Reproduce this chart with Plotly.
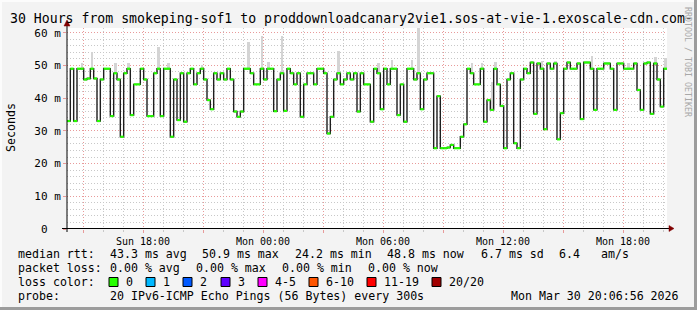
import plotly.graph_objects as go
from datetime import datetime, timedelta

# ---------------- data ----------------
start_time = datetime(2026, 3, 29, 14, 12)
step_minutes = 10
span_hours = 30

median_ms = [
    33, 49, 33, 49, 49, 45.7, 46, 49, 46, 33,
    45.7, 49, 49, 34.5, 47.6, 45.7, 28.2, 47.6, 49, 34.8,
    44.2, 44.2, 49, 45.7, 34.5, 34.5, 47.6, 49, 34.5, 49,
    49, 28.2, 45.7, 33.3, 47.6, 32.8, 47.6, 49, 44.2, 47.6,
    49, 45.7, 39.4, 36.6, 47.6, 45.7, 47.6, 45.7, 49, 45.7,
    35.9, 34.3, 35.9, 49, 49, 47.6, 44.2, 44.2, 49, 45.7,
    49, 49, 36, 45.7, 47.6, 36.1, 49, 47.6, 44.2, 47.6,
    34.3, 44.2, 47.6, 47.6, 44.2, 49, 49, 47.6, 29.2, 34.3,
    45.7, 47.6, 44.2, 45.7, 47.6, 45.7, 47.6, 35.9, 47.6, 44.2,
    44.2, 32.8, 49, 47.6, 36.6, 49, 44.2, 49, 49, 34.8,
    44.2, 32.8, 49, 49, 45.7, 47.6, 36.6, 45.7, 47.6, 47.6,
    24.7, 40.6, 24.7, 24.7, 24.9, 25.7, 24.7, 24.7, 28.2, 32,
    49, 47.6, 44.2, 44.2, 49, 32.8, 39.4, 36.4, 49, 44.2,
    37.6, 24.7, 45.7, 47.6, 26.2, 24.7, 45.7, 49, 47.6, 50.9,
    35.2, 50.6, 49, 30.5, 50.6, 49, 50.6, 27.4, 35.4, 49,
    50.9, 49, 49, 50.6, 33.6, 50.9, 50.9, 49, 36.4, 49,
    49, 50.6, 50.6, 49, 36.4, 50.6, 50.6, 49, 49, 49,
    50.6, 42.5, 36.4, 50.6, 50.9, 35.2, 50.6, 45.7, 37.4, 49,
]

smoke_idx = [4, 7, 14, 18, 27, 30, 40, 54, 58, 60, 64, 81, 93, 97, 103, 105,
             121, 124, 127, 128, 142, 146, 157, 168, 176, 179]
smoke_top = [50.6, 54, 50.6, 50.6, 55.5, 50.6, 50.2, 57.3, 59, 51, 59, 54.5, 50.6,
             51.6, 51.6, 62, 50.6, 50.6, 45, 50.9, 51.5, 51.5, 52.9, 50.6, 52.6, 52.3]

y_tick_vals = [0, 10, 20, 30, 40, 50, 60]
y_tick_text = ["0\u00a0\u00a0", "10 m", "20 m", "30 m", "40 m", "50 m", "60 m"]
x_tick_text = ["", "Sun 18:00", "", "Mon 00:00", "", "Mon 06:00", "", "Mon 12:00",
               "", "Mon 18:00", ""]

title_text = "30 Hours from smokeping-sof1 to proddownloadcanary2vie1.sos-at-vie-1.exoscale-cdn.com-"
stats_rtt = [("43.3 ms avg", 108), ("50.9 ms max", 200), ("24.2 ms min", 293),
             ("48.8 ms now", 385), ("6.7 ms sd", 479), ("6.4", 557), ("am/s", 599)]
stats_loss = [("0.00 % avg", 108), ("0.00 % max", 194), ("0.00 % min", 280),
              ("0.00 % now", 366)]
loss_labels = ["0", "1", "2", "3", "4-5", "6-10", "11-19", "20/20"]
loss_colors = ["#26ff00", "#00b8ff", "#0059ff", "#5e00ff", "#ff00ff", "#ff5500",
               "#ff0000", "#a10000"]
loss_square_x = [109, 146, 183, 221, 258, 309, 367, 432]
probe_text = "20 IPv6-ICMP Echo Pings (56 Bytes) every 300s"
date_text = "Mon Mar 30 20:06:56 2026"

# ---------------- geometry helpers ----------------
W, H = 697, 310
L, R, T, B = 67, 667, 28, 229
FONT = "DejaVu Sans Mono"


def px(x):
    return (x - L) / (R - L)


def py(y):
    return (B - y) / (B - T)


step = timedelta(minutes=step_minutes)
times = [start_time + i * step for i in range(len(median_ms))]
end_time = start_time + timedelta(hours=span_hours)

fig = go.Figure()

# smoke
fig.add_trace(go.Bar(
    x=[times[i] + step / 2 for i in smoke_idx],
    y=[top - median_ms[i] for i, top in zip(smoke_idx, smoke_top)],
    base=[median_ms[i] for i in smoke_idx],
    width=[step.total_seconds() * 1000 * 0.8] * len(smoke_idx),
    marker=dict(color="#d4d4d4", line=dict(width=0)),
    hoverinfo="skip", showlegend=False,
))

# median step line
fig.add_trace(go.Scatter(
    x=times + [times[-1] + step], y=median_ms + [median_ms[-1]],
    mode="lines", line=dict(color="#1e1e1e", width=1.4, shape="hv"),
    hoverinfo="skip", showlegend=False,
))

# loss-coloured horizontal parts
gx, gy = [], []
for t, v in zip(times, median_ms):
    gx += [t, t + step, None]
    gy += [v, v, None]
fig.add_trace(go.Scatter(
    x=gx, y=gy, mode="lines", line=dict(color=loss_colors[0], width=2.2),
    hoverinfo="skip", showlegend=False,
))

x_ticks = [start_time.replace(hour=15, minute=0) + timedelta(hours=3 * k) for k in range(11)]

fig.update_layout(
    width=W, height=H,
    margin=dict(l=L, r=W - R, t=T, b=H - B),
    paper_bgcolor="#f3f3f3", plot_bgcolor="#ffffff",
    font=dict(family=FONT, color="#000000"),
    bargap=0,
    xaxis=dict(
        type="date", range=[start_time, end_time],
        tickvals=x_ticks, ticktext=x_tick_text,
        tickfont=dict(size=10, family=FONT),
        showgrid=True, gridcolor="#e89a9a", griddash="1px,2px", gridwidth=1,
        ticks="outside", ticklen=3, tickcolor="#e89a9a",
        minor=dict(dtick=3600000, tick0=start_time.replace(minute=0),
                   showgrid=True, gridcolor="#c8c8c8", griddash="1px,2px",
                   ticks="outside", ticklen=2, tickcolor="#c8c8c8"),
        showline=False, zeroline=False, fixedrange=True,
    ),
    yaxis=dict(
        range=[0, 60 * (B - T) / (B - 32.7)],
        tickvals=y_tick_vals, ticktext=y_tick_text,
        tickfont=dict(size=11, family=FONT),
        showgrid=True, gridcolor="#e89a9a", griddash="1px,2px", gridwidth=1,
        ticks="outside", ticklen=3, tickcolor="#e89a9a",
        minor=dict(dtick=2, showgrid=True, gridcolor="#c8c8c8", griddash="1px,2px"),
        showline=False, zeroline=False, fixedrange=True,
    ),
)

shapes = []
# axis lines
shapes.append(dict(type="line", xref="paper", yref="paper", x0=px(62), x1=px(670),
                   y0=py(228.5), y1=py(228.5), line=dict(color="#000000", width=1)))
shapes.append(dict(type="line", xref="paper", yref="paper", x0=px(67), x1=px(67),
                   y0=py(232), y1=py(24), line=dict(color="#000000", width=1)))
# arrows
shapes.append(dict(type="path", xref="paper", yref="paper",
                   path=f"M {px(669)} {py(225.5)} L {px(674)} {py(228.5)} L {px(669)} {py(231.5)} Z",
                   fillcolor="#800000", line=dict(color="#800000", width=0.5)))
shapes.append(dict(type="path", xref="paper", yref="paper",
                   path=f"M {px(64)} {py(26)} L {px(67)} {py(20)} L {px(70)} {py(26)} Z",
                   fillcolor="#800000", line=dict(color="#800000", width=0.5)))
# frame
shapes.append(dict(type="rect", xref="paper", yref="paper", x0=px(694), x1=px(697),
                   y0=py(0), y1=py(310), fillcolor="#9c9c9c", line=dict(width=0)))
shapes.append(dict(type="rect", xref="paper", yref="paper", x0=px(0), x1=px(697),
                   y0=py(307), y1=py(310), fillcolor="#9c9c9c", line=dict(width=0)))
shapes.append(dict(type="rect", xref="paper", yref="paper", x0=px(0), x1=px(694),
                   y0=py(0), y1=py(2), fillcolor="#fcfcfc", line=dict(width=0)))
shapes.append(dict(type="rect", xref="paper", yref="paper", x0=px(0), x1=px(2),
                   y0=py(0), y1=py(307), fillcolor="#fcfcfc", line=dict(width=0)))
# loss colour squares
for sx, col in zip(loss_square_x, loss_colors):
    shapes.append(dict(type="rect", xref="paper", yref="paper",
                       x0=px(sx), x1=px(sx + 9), y0=py(277.5), y1=py(286.5),
                       fillcolor=col, line=dict(color="#000000", width=1)))
fig.update_layout(shapes=shapes)

ann = []


def text(s, x, y, size=11.6, anchor="left", color="#000000", angle=0):
    ann.append(dict(text=s, x=px(x), y=py(y), xref="paper", yref="paper",
                    xanchor=anchor, yanchor="middle", showarrow=False,
                    textangle=angle,
                    font=dict(family=FONT, size=size, color=color)))


text(title_text, 8, 18, size=13.2)
text("Seconds", 11, 128, size=11.6, anchor="center", angle=-90)
text("RRDTOOL / TOBI OETIKER", 688, 62, size=8.3, anchor="center", color="#a8a8a8", angle=90)

text("median rtt:", 16, 254)
for s, x in stats_rtt:
    text(s, x, 254)
text("packet loss:", 16, 268)
for s, x in stats_loss:
    text(s, x, 268)
text("loss color:", 16, 282)
for lab, sx in zip(loss_labels, loss_square_x):
    text(lab, sx + 15, 282)
text("probe:", 16, 296)
text(probe_text, 108, 296)
text(date_text, 681, 296, anchor="right")

fig.update_layout(annotations=ann)

fig.write_html("out.html")
